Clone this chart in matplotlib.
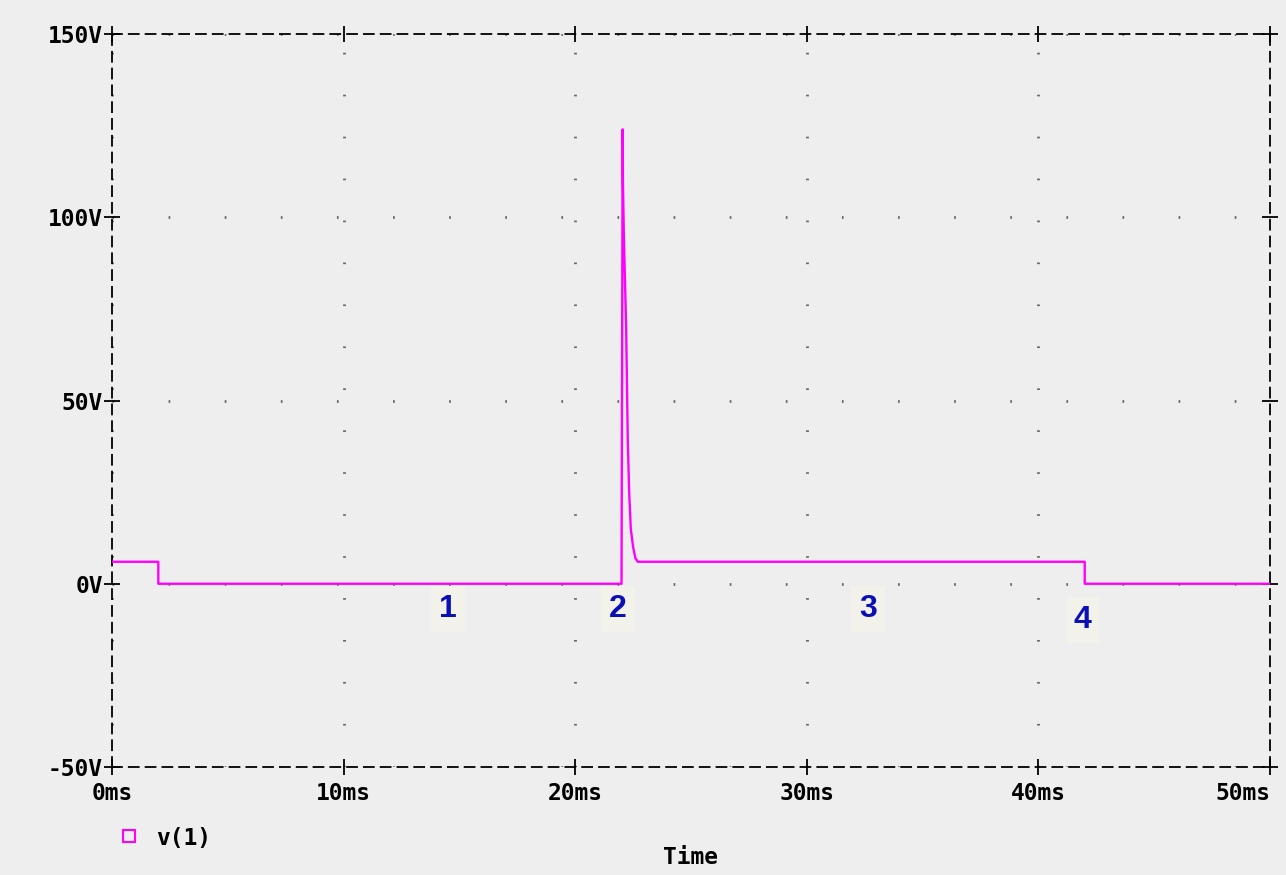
"""PSpice-style transient plot of v(1): step, inductive kick at ~22 ms, then decay."""
import matplotlib
matplotlib.use('Agg')
import matplotlib.pyplot as plt
from matplotlib.lines import Line2D
from matplotlib.ticker import FixedLocator

# --- data -------------------------------------------------------------------
time_ms = [0.0, 2.0, 2.0, 22.0, 22.05, 22.06, 22.1, 22.2, 22.27, 22.33,
           22.4, 22.5, 22.6, 22.7, 42.0, 42.0, 50.0]
v1_volts = [6.0, 6.0, 0.0, 0.0, 124.0, 110.0, 95.0, 70.0, 39.0, 25.0,
            15.0, 10.0, 7.0, 6.0, 6.0, 0.0, 0.0]
series_name = 'v(1)'

x_ticks = [0, 10, 20, 30, 40, 50]
x_tick_labels = ['0ms', '10ms', '20ms', '30ms', '40ms', '50ms']
y_ticks = [-50, 0, 50, 100, 150]
y_tick_labels = ['-50V', '0V', '50V', '100V', '150V']

region_labels = ['1', '2', '3', '4']
region_x = [14.5, 21.85, 32.65, 41.9]
region_y = [-7.0, -7.0, -7.0, -10.0]

# --- styling ------------------------------------------------------------------
BG = '#eeeeee'
TRACE = '#ff00ff'
NUM_BLUE = '#0a10b4'
mono = dict(family='DejaVu Sans Mono', weight='bold', size=16.5)

fig = plt.figure(figsize=(12.86, 8.75), dpi=100, facecolor=BG)
ax = fig.add_axes([112 / 1286, 1 - 767 / 875, 1158 / 1286, 733 / 875])
ax.set_facecolor(BG)

ax.plot(time_ms, v1_volts, color=TRACE, linewidth=1.7, zorder=3)

ax.set_xlim(x_ticks[0], x_ticks[-1])
ax.set_ylim(y_ticks[0], y_ticks[-1])
ax.xaxis.set_major_locator(FixedLocator(x_ticks))
ax.yaxis.set_major_locator(FixedLocator(y_ticks))
ax.set_xticklabels(x_tick_labels, **mono)
ax.set_yticklabels(y_tick_labels, **mono)
ax.get_xticklabels()[-1].set_horizontalalignment('right')

# '+' ticks on all four sides
ax.tick_params(axis='both', which='major', direction='inout', length=11,
               width=1.3, color='black', top=True, right=True,
               labeltop=False, labelright=False)
ax.tick_params(axis='x', pad=5)
ax.tick_params(axis='y', pad=1)

# dashed border
for sp in ax.spines.values():
    sp.set_linestyle((0, (5.5, 3.8)))
    sp.set_linewidth(1.3)
    sp.set_color('black')

# dotted grid: vertical lines dot every ~10 V, horizontal every 2 ms
ax.xaxis.grid(True, color='#666666', linewidth=2.0, linestyle=(0, (0.6, 14.5)))
ax.yaxis.grid(True, color='#666666', linewidth=2.0, linestyle=(0, (0.6, 19.6)))
ax.set_axisbelow(True)

for lab, xx, yy in zip(region_labels, region_x, region_y):
    ax.text(xx, yy, lab, color=NUM_BLUE, fontsize=23, fontweight='bold',
            family='Liberation Sans', ha='center', va='center', zorder=4,
            bbox=dict(boxstyle='square,pad=0.25', facecolor='#f2f2ea',
                      edgecolor='none'))

ax.set_xlabel('Time', labelpad=30, **mono)

handle = Line2D([], [], marker='s', markerfacecolor='none',
                markeredgecolor=TRACE, markeredgewidth=1.5, markersize=8,
                linestyle='none')
fig.legend([handle], [series_name], loc='center left',
           bbox_to_anchor=(106 / 1286, 1 - 838 / 875), frameon=False,
           prop=mono, handletextpad=0.2, borderaxespad=0, borderpad=0)

fig.savefig('out.png', dpi=100, facecolor=BG)
plt.close(fig)
